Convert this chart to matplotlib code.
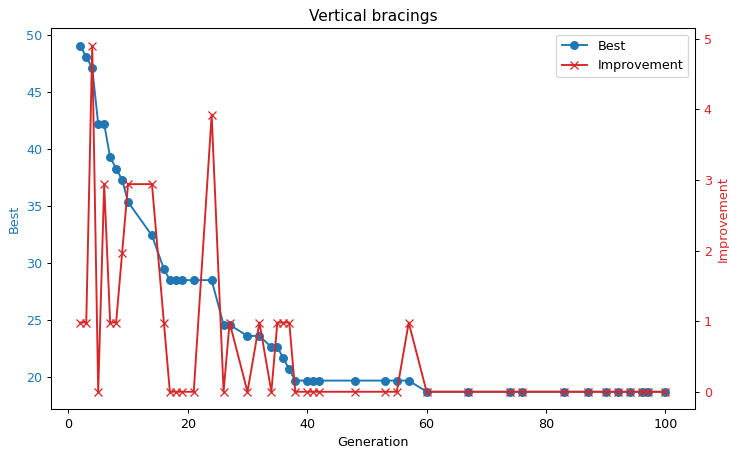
import matplotlib
matplotlib.use("Agg")
import matplotlib.pyplot as plt

# data
generation = [2, 3, 4, 5, 6, 7, 8, 9, 10, 14, 16, 17, 18, 19, 21, 24, 26, 27, 30, 32,
              34, 35, 36, 37, 38, 40, 41, 42, 48, 53, 55, 57, 60, 67, 74, 76, 83, 87,
              90, 92, 94, 96, 97, 100]
best = [49.10, 48.12, 47.14, 42.24, 42.24, 39.30, 38.32, 37.34, 35.38, 32.44, 29.50,
        28.52, 28.52, 28.52, 28.52, 28.52, 24.60, 24.60, 23.62, 23.62, 22.64, 22.64,
        21.66, 20.68, 19.70, 19.70, 19.70, 19.70, 19.70, 19.70, 19.70, 19.70, 18.72,
        18.72, 18.72, 18.72, 18.72, 18.72, 18.72, 18.72, 18.72, 18.72, 18.72, 18.72]
improvement = [0.98, 0.98, 4.90, 0.0, 2.94, 0.98, 0.98, 1.96, 2.94, 2.94, 0.98,
               0.0, 0.0, 0.0, 0.0, 3.92, 0.0, 0.98, 0.0, 0.98, 0.0, 0.98,
               0.98, 0.98, 0.0, 0.0, 0.0, 0.0, 0.0, 0.0, 0.0, 0.98, 0.0,
               0.0, 0.0, 0.0, 0.0, 0.0, 0.0, 0.0, 0.0, 0.0, 0.0, 0.0]

fig, ax1 = plt.subplots(figsize=(729 / 92, 451 / 92), dpi=92)
fig.subplots_adjust(left=0.070, right=0.953, top=0.937, bottom=0.093)

c1, c2 = "tab:blue", "tab:red"
l1, = ax1.plot(generation, best, "o-", color=c1, label="Best")
ax1.set_xlabel("Generation")
ax1.set_ylabel("Best", color=c1)
ax1.tick_params(axis="y", labelcolor=c1)

ax2 = ax1.twinx()
l2, = ax2.plot(generation, improvement, "x-", color=c2, label="Improvement")
ax2.set_ylabel("Improvement", color=c2)
ax2.tick_params(axis="y", labelcolor=c2)

ax1.set_title("Vertical bracings")
ax2.legend([l1, l2], ["Best", "Improvement"], loc="upper right")

fig.savefig("out.png")
